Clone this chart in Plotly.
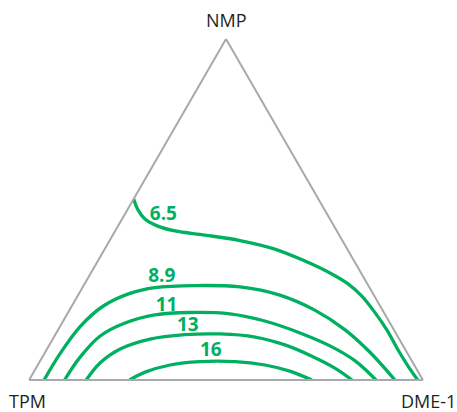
import plotly.graph_objects as go

# Iso-value curves on the NMP / TPM / DME-1 composition triangle (percent).
# Each curve is given by its NMP and DME-1 fractions; TPM is the remainder.
levels = ["6.5", "8.9", "11", "13", "16"]

nmp_65 = [53.1, 49.9, 47.2, 45.2, 43.7, 42.5, 40.9, 38.4, 34.9, 31.4, 28.2, 24.6, 19.9, 14.7, 8.8, 3.8, 0.0]
dme_65 = [0.0, 2.7, 5.8, 9.9, 15.2, 23.4, 33.1, 43.2, 52.6, 60.7, 66.9, 72.2, 77.8, 83.5, 89.3, 94.5, 98.7]

nmp_89 = [0.0, 7.8, 15.6, 21.7, 25.4, 27.1, 27.7, 27.3, 24.9, 20.5, 14.7, 8.2, 0.0]
dme_89 = [3.8, 4.0, 5.1, 8.0, 12.9, 18.4, 28.3, 39.9, 51.2, 62.3, 72.9, 82.4, 92.9]

nmp_11 = [0.0, 6.7, 12.9, 16.7, 19.1, 19.8, 19.4, 17.3, 13.8, 10.0, 5.6, 0.0]
dme_11 = [9.0, 9.6, 11.6, 16.0, 22.4, 31.0, 41.3, 51.2, 61.9, 71.4, 80.0, 88.1]

nmp_13 = [0.0, 5.0, 9.1, 12.0, 13.3, 13.5, 12.6, 10.3, 7.0, 3.5, 0.0]
dme_13 = [14.5, 15.5, 18.6, 24.7, 32.9, 41.7, 51.1, 59.8, 68.3, 75.9, 82.0]

nmp_16 = [0.0, 2.3, 4.4, 5.4, 5.4, 4.4, 2.6, 0.0]
dme_16 = [25.5, 28.3, 33.6, 40.7, 49.6, 57.7, 64.9, 71.8]

# Where each level label sits (NMP %, DME-1 %)
label_nmp = [48.4, 30.2, 21.6, 15.8, 8.5]
label_dme = [9.9, 18.6, 24.1, 32.4, 41.9]

# Component names at the triangle corners
components = ["NMP", "TPM", "DME-1"]

GREEN = "#00b060"
GREY = "#a9a9ab"
TEXT = "#231f20"

curves = [(nmp_65, dme_65), (nmp_89, dme_89), (nmp_11, dme_11),
          (nmp_13, dme_13), (nmp_16, dme_16)]

fig = go.Figure()
for (a_vals, c_vals) in curves:
    fig.add_trace(go.Scatterternary(
        a=a_vals,
        b=[100 - a - c for a, c in zip(a_vals, c_vals)],
        c=c_vals,
        mode="lines",
        line=dict(color=GREEN, width=3.3, shape="spline", smoothing=1.0),
        hoverinfo="skip",
        showlegend=False,
    ))

fig.add_trace(go.Scatterternary(
    a=label_nmp,
    b=[100 - a - c for a, c in zip(label_nmp, label_dme)],
    c=label_dme,
    mode="text",
    text=levels,
    textposition="middle center",
    textfont=dict(family="Open Sans", size=19, color=GREEN, weight="bold"),
    hoverinfo="skip",
    showlegend=False,
))

axis_common = dict(
    min=0,
    showticklabels=False,
    showgrid=False,
    ticks="",
    showline=True,
    linecolor=GREY,
    linewidth=2,
    title=dict(text=""),
)

# Corner labels placed just outside each vertex
corner_x = [0.5, -0.005, 1.013]
corner_y = [1.056, -0.062, -0.062]
annotations = [
    dict(text=name, x=x, y=y, xref="paper", yref="paper",
         xanchor="center", yanchor="middle", showarrow=False,
         font=dict(family="Open Sans", size=18, color=TEXT))
    for name, x, y in zip(components, corner_x, corner_y)
]

fig.update_layout(
    width=457,
    height=412,
    margin=dict(l=29, r=34, t=39, b=32),
    paper_bgcolor="white",
    plot_bgcolor="white",
    showlegend=False,
    annotations=annotations,
    ternary=dict(
        sum=100,
        bgcolor="white",
        aaxis=axis_common,
        baxis=axis_common,
        caxis=axis_common,
    ),
)

fig.write_html("out.html", config={"displayModeBar": False})
